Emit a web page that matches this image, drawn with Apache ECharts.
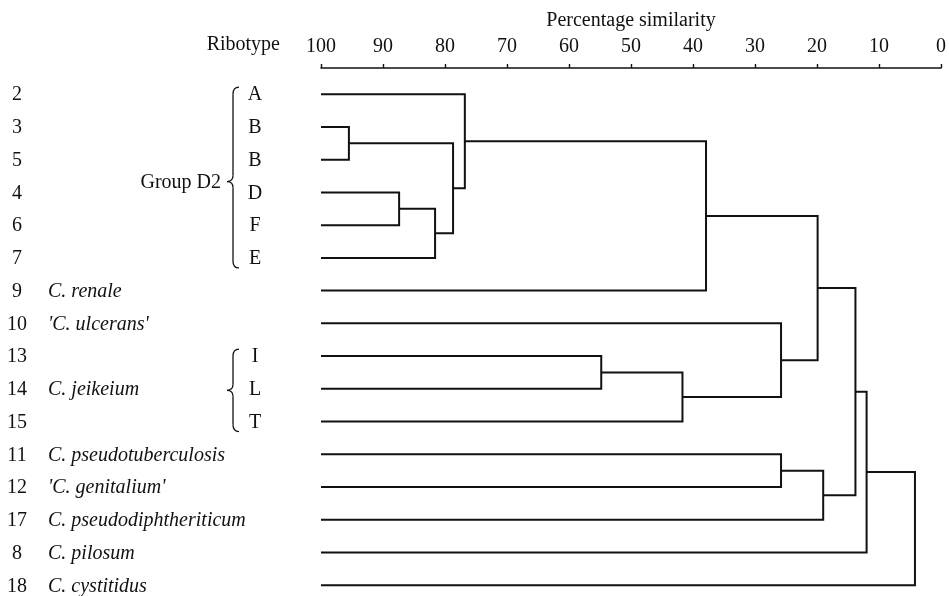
<!DOCTYPE html>
<html>
<head>
<meta charset="utf-8">
<script src="https://cdn.jsdelivr.net/npm/echarts@6/dist/echarts.min.js"></script>
<style>
html,body{margin:0;padding:0;background:#fff;}
#chart{width:949px;height:596px;}
</style>
</head>
<body>
<div id="chart"></div>
<script>
// ---- data ----
var rowNumbers = ['2','3','5','4','6','7','9','10','13','14','15','11','12','17','8','18'];
var speciesNames = ['', '', '', '', '', '', 'C. renale', "'C. ulcerans'", '', 'C. jeikeium', '', 'C. pseudotuberculosis', "'C. genitalium'", 'C. pseudodiphtheriticum', 'C. pilosum', 'C. cystitidus'];
var ribotypes = ['A','B','B','D','F','E','','','I','L','T','','','','',''];
// merges: [child1, child2, similarity]; leaves are 0..15, new clusters numbered 16, 17, ...
var mergeLeft  = [1, 3, 17, 16, 0, 20, 8, 22, 7, 21, 11, 26, 25, 28, 29];
var mergeRight = [2, 4, 5, 18, 19, 6, 9, 10, 23, 24, 12, 13, 27, 14, 15];
var mergeSim   = [95.5, 87.4, 81.6, 78.7, 76.8, 37.9, 54.8, 41.7, 25.8, 19.9, 25.8, 19.0, 13.8, 12.0, 4.2];
var groupLabels = ['Group D2', ''];
var groupFrom = [0, 8];
var groupTo = [5, 10];

// ---- build node positions ----
var nLeaves = rowNumbers.length;
var nodeY = [], nodeH = [];
for (var i = 0; i < nLeaves; i++) { nodeY.push(i); nodeH.push(100); }
var segData = [];
for (var k = 0; k < mergeSim.length; k++) {
  var a = mergeLeft[k], b = mergeRight[k], h = mergeSim[k];
  segData.push([nodeH[a], nodeY[a], h, nodeY[b], nodeH[b]]);
  nodeY.push((nodeY[a] + nodeY[b]) / 2);
  nodeH.push(h);
}

var FONT = "'Liberation Serif', 'Times New Roman', serif";
var INK = '#111';
var chart = echarts.init(document.getElementById('chart'), null, {renderer: 'canvas'});
var option = {
  animation: false,
  backgroundColor: '#fff',
  grid: {left: 321, right: 7, top: 68, bottom: 4.2, containLabel: false},
  xAxis: {
    type: 'value', min: 0, max: 100, interval: 10, inverse: true, position: 'top',
    name: 'Percentage similarity', nameLocation: 'middle', nameGap: 37,
    nameTextStyle: {fontFamily: FONT, fontSize: 20, color: INK},
    axisLine: {show: true, onZero: false, lineStyle: {color: INK, width: 1.6}},
    axisTick: {show: true, length: 4, lineStyle: {color: INK, width: 1.4}},
    axisLabel: {fontFamily: FONT, fontSize: 20, color: INK, margin: 11},
    splitLine: {show: false}
  },
  yAxis: {
    type: 'value', min: -0.8, max: 15.2, inverse: true, show: false
  },
  series: [{
    type: 'custom',
    renderItem: function (params, api) {
      var p1 = api.coord([api.value(0), api.value(1)]);
      var p2 = api.coord([api.value(2), api.value(1)]);
      var p3 = api.coord([api.value(2), api.value(3)]);
      var p4 = api.coord([api.value(4), api.value(3)]);
      return {
        type: 'polyline',
        shape: {points: [p1, p2, p3, p4]},
        style: {stroke: INK, lineWidth: 2, fill: null}
      };
    },
    encode: {x: [0, 2, 4], y: [1, 3]},
    data: segData
  }]
};
chart.setOption(option);

// ---- left-hand labels ----
var g = [];
function rowY(i) { return chart.convertToPixel({gridIndex: 0}, [100, i])[1]; }
for (var i = 0; i < nLeaves; i++) {
  var y = rowY(i) + 1;
  g.push({type: 'text', x: 17, y: y, style: {text: rowNumbers[i], font: '20px ' + FONT, fill: INK, textAlign: 'center', textVerticalAlign: 'middle'}});
  if (speciesNames[i]) g.push({type: 'text', x: 48, y: y, style: {text: speciesNames[i], font: 'italic 20px ' + FONT, fill: INK, textAlign: 'left', textVerticalAlign: 'middle'}});
  if (ribotypes[i]) g.push({type: 'text', x: 255, y: y, style: {text: ribotypes[i], font: '20px ' + FONT, fill: INK, textAlign: 'center', textVerticalAlign: 'middle'}});
}
g.push({type: 'text', x: 280, y: 45, style: {text: 'Ribotype', font: '20px ' + FONT, fill: INK, textAlign: 'right', textVerticalAlign: 'middle'}});
var bs = {stroke: INK, lineWidth: 1.3, fill: null};
for (var j = 0; j < groupFrom.length; j++) {
  var y0 = rowY(groupFrom[j]) - 7, y1 = rowY(groupTo[j]) + 10;
  var ym = (y0 + y1) / 2 + (groupLabels[j] ? 4 : 0);
  var xr = 239, xm = 233, xt = 227;
  g.push({type: 'bezierCurve', shape: {x1: xr, y1: y0, x2: xm, y2: y0 + 7, cpx1: xm, cpy1: y0}, style: bs});
  g.push({type: 'line', shape: {x1: xm, y1: y0 + 7, x2: xm, y2: ym - 6}, style: bs});
  g.push({type: 'bezierCurve', shape: {x1: xm, y1: ym - 6, x2: xt, y2: ym, cpx1: xm, cpy1: ym}, style: bs});
  g.push({type: 'bezierCurve', shape: {x1: xt, y1: ym, x2: xm, y2: ym + 6, cpx1: xm, cpy1: ym}, style: bs});
  g.push({type: 'line', shape: {x1: xm, y1: ym + 6, x2: xm, y2: y1 - 7}, style: bs});
  g.push({type: 'bezierCurve', shape: {x1: xm, y1: y1 - 7, x2: xr, y2: y1, cpx1: xm, cpy1: y1}, style: bs});
  if (groupLabels[j]) g.push({type: 'text', x: 221, y: ym + 1, style: {text: groupLabels[j], font: '20px ' + FONT, fill: INK, textAlign: 'right', textVerticalAlign: 'middle'}});
}
chart.setOption({graphic: g});
</script>
</body>
</html>
